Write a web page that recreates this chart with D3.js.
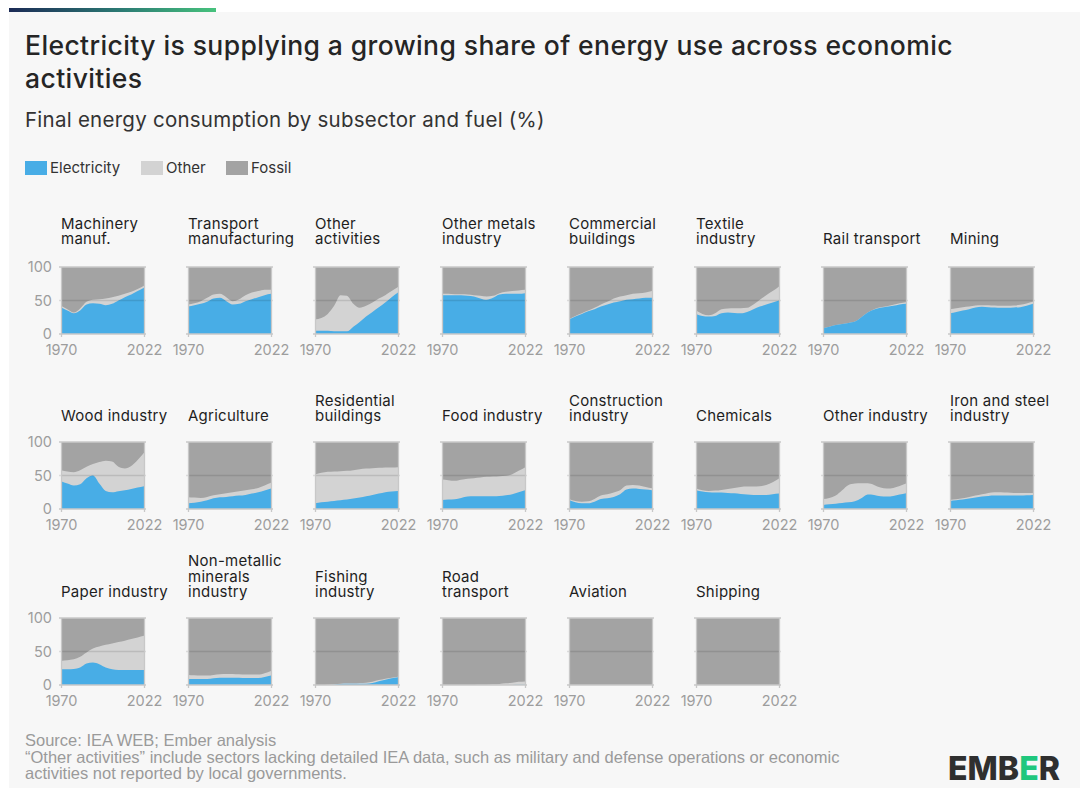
<!DOCTYPE html>
<html>
<head>
<meta charset="utf-8">
<script src="https://cdn.jsdelivr.net/npm/d3@7"></script>
<style>
  body { margin: 0; background: #fff; }
  svg { display: block; font-family: Inter, "Noto Sans", sans-serif; }
</style>
</head>
<body>
<svg id="chart" width="1080" height="788"></svg>
<script>

// years sampled every 4 years, 1970 -> 2022
var years = [1970, 1974, 1978, 1982, 1986, 1990, 1994, 1998, 2002, 2006, 2010, 2014, 2018, 2022];

var titles = [
    ["Machinery", "manuf."], ["Transport", "manufacturing"], ["Other", "activities"], ["Other metals", "industry"],
    ["Commercial", "buildings"], ["Textile", "industry"], ["Rail transport"], ["Mining"],
    ["Wood industry"], ["Agriculture"], ["Residential", "buildings"], ["Food industry"],
    ["Construction", "industry"], ["Chemicals"], ["Other industry"], ["Iron and steel", "industry"],
    ["Paper industry"], ["Non-metallic", "minerals", "industry"], ["Fishing", "industry"], ["Road", "transport"],
    ["Aviation"], ["Shipping"]
];

// electricity share (%) per subsector
var electricity = [
    [40, 35, 31, 35, 44, 46, 45, 43, 45, 50, 55, 59, 64, 69],
    [41, 43, 45, 48, 53, 54, 49, 44, 45, 49, 52, 55, 58, 60],
    [5, 5, 5, 4, 4, 4, 11, 18, 26, 33, 40, 47, 55, 62],
    [58, 58, 58, 58, 57, 56, 53, 51, 54, 59, 60, 60, 60, 61],
    [21.5, 26, 30, 34, 37, 41, 44, 47, 49, 51, 52, 53, 54, 54],
    [30, 27, 26, 27, 31, 32, 31.5, 31, 33, 37, 41, 44, 47, 50],
    [8.5, 11, 13.5, 15, 16.5, 18.5, 25, 32, 36.5, 39, 40.5, 42, 44, 45],
    [31, 33, 35, 37, 39.5, 40.5, 40, 39.5, 39, 39, 39.5, 40, 42, 45],
    [41.5, 38, 35, 37, 46, 50, 38, 27, 25, 26.5, 28, 30, 32, 34],
    [8.5, 9.5, 11, 13, 16, 17.5, 18, 19, 20, 21, 23, 25, 27.5, 30.5],
    [8.5, 10, 11, 12, 13, 14, 15.5, 17, 19, 21, 23, 25, 26, 27],
    [13.5, 14, 14.5, 16.5, 18.5, 19, 19, 19, 19, 19.5, 20.5, 22, 25, 28],
    [13.5, 10, 8.5, 8.5, 11, 15, 16, 18, 22, 29, 30.5, 30, 29, 28],
    [28, 26, 25, 24.5, 24.5, 24, 23.5, 22.5, 21.5, 21, 21, 21, 22, 23],
    [6, 7, 8, 9, 10, 11.5, 16, 21.5, 21, 19, 18.5, 19.5, 21.5, 23.5],
    [12, 13, 14, 15.5, 17, 18.5, 19.5, 20, 20, 20, 20, 20, 20.5, 21],
    [23.5, 23.5, 24, 26, 32, 33.5, 31, 26, 23.5, 22.5, 22.5, 22.5, 22.5, 22.5],
    [9, 9, 9, 9, 10, 11, 11, 11, 11, 10.5, 10.5, 10.5, 12, 14],
    [0, 0, 0, 0.5, 1.5, 2, 2, 2, 2, 3, 5.5, 8, 10, 11.5],
    [0, 0, 0, 0, 0, 0, 0, 0, 0, 0, 0, 0, 0.2, 0.3],
    [0, 0, 0, 0, 0, 0, 0, 0, 0, 0, 0, 0, 0, 0],
    [0, 0, 0, 0, 0, 0, 0, 0, 0, 0, 0, 0, 0, 0]
];

// other (non-fossil, non-electric) share (%) per subsector
var other = [
    [2, 2, 1, 3, 4, 5, 7, 10, 10, 7, 5, 4, 3, 3],
    [3, 3, 4, 6, 6, 6, 6, 5, 7, 9, 10, 9, 8, 6],
    [17, 19, 25, 38, 54, 53, 34, 21, 16, 14, 13, 11, 9, 8],
    [2, 2, 1.5, 1.5, 2, 2, 4, 5, 3, 2, 3, 4, 5, 5],
    [0.5, 1, 1, 1, 2, 3, 4, 6, 7, 7, 8, 8, 8, 10],
    [5, 3, 2, 4, 6, 6, 7, 7.5, 6, 7, 10, 14, 17, 21],
    [0, 0, 0, 0, 0, 0, 0, 0, 0.5, 1, 1, 1.5, 2, 2.5],
    [6, 5.5, 5, 4, 3, 2.5, 3, 3, 3, 3, 3, 3.5, 3.5, 3],
    [16.5, 18, 20, 21, 17, 17, 32, 45, 46, 36.5, 32.5, 34, 41, 50],
    [9, 7.5, 5.5, 5, 4.5, 4.5, 5.5, 6, 6.5, 7, 6.5, 6.5, 7.5, 8.5],
    [43, 44, 44.5, 44, 43.5, 43, 42.5, 42.5, 41.5, 40, 38.5, 37, 36, 35.5],
    [30.5, 29, 27.5, 27, 26.5, 27, 28, 29, 29.5, 29.5, 29, 30, 32, 34],
    [1.5, 2, 2.5, 3, 4, 5, 6, 6.5, 6, 6, 5.5, 5, 4, 3],
    [2.5, 2, 2, 3, 4, 6, 8, 10.5, 12, 12.5, 13, 15, 18, 22.5],
    [9, 9.5, 12, 19, 26, 26.5, 22.5, 17, 15, 13, 12, 12, 13, 14.5],
    [1.5, 1.5, 2, 2.5, 3, 3.5, 4.5, 5, 5, 4.5, 4, 4, 3.5, 3],
    [12.5, 13.5, 14.5, 16, 16.5, 21, 26.5, 34, 38.5, 41.5, 43.5, 46, 48.5, 51],
    [6, 5.5, 5, 5, 5, 5, 5.5, 5.5, 5, 5, 5, 5, 5.5, 7],
    [0, 0, 0.5, 0.5, 0.5, 0.5, 0.5, 1, 1.5, 2, 2, 1.5, 1, 1],
    [0, 0, 0, 0, 0, 0, 0.2, 0.5, 1, 1.5, 2.5, 3.5, 4.5, 5],
    [0, 0, 0, 0, 0, 0, 0, 0, 0, 0, 0, 0, 0, 0],
    [0, 0, 0, 0, 0, 0, 0, 0, 0, 0, 0, 0, 0, 0]
];

var fuels = ["Electricity", "Other", "Fossil"];
var fuelColors = ["#48ade6", "#d3d3d3", "#a3a3a3"];
var yTicks = [0, 50, 100];
var xTicks = [1970, 2022];

var svg = d3.select("#chart");

// page background + top bar
svg.append("rect").attr("width", 1080).attr("height", 788).attr("fill", "#fff");
svg.append("rect").attr("x", 9).attr("y", 12).attr("width", 1071).attr("height", 776).attr("fill", "#f7f7f7");

var grad = svg.append("defs").append("linearGradient").attr("id", "topbar");
grad.append("stop").attr("offset", "0%").attr("stop-color", "#1b2a55");
grad.append("stop").attr("offset", "55%").attr("stop-color", "#2c7c74");
grad.append("stop").attr("offset", "100%").attr("stop-color", "#47c27d");
svg.append("rect").attr("x", 9).attr("y", 8).attr("width", 207).attr("height", 4).attr("fill", "url(#topbar)");

// title / subtitle
svg.append("text")
    .attr("x", 25).attr("y", 55)
    .attr("font-size", 26.5).attr("font-weight", 500).attr("fill", "#252525")
    .attr("letter-spacing", 0.4)
    .text("Electricity is supplying a growing share of energy use across economic");
svg.append("text")
    .attr("x", 25).attr("y", 88)
    .attr("font-size", 26.5).attr("font-weight", 500).attr("fill", "#252525")
    .attr("letter-spacing", 0.4)
    .text("activities");
svg.append("text")
    .attr("x", 25).attr("y", 127)
    .attr("font-size", 20.5).attr("fill", "#333")
    .attr("letter-spacing", 0.25)
    .text("Final energy consumption by subsector and fuel (%)");

// legend
var legendX = [25, 141, 226];
var legend = svg.append("g").selectAll("g")
    .data(fuels)
    .enter()
    .append("g")
    .attr("transform", function(d, i) { return "translate(" + legendX[i] + ",161)"; });
legend.append("rect")
    .attr("width", 22).attr("height", 14)
    .attr("fill", function(d, i) { return fuelColors[i]; });
legend.append("text")
    .attr("x", 25).attr("y", 12)
    .attr("font-size", 15).attr("fill", "#333")
    .text(function(d) { return d; });

// small multiples
var W = 83, H = 67;
var rowTops = [267, 442, 618];
var rowTitleBase = [244, 421, 597];

var x = d3.scaleLinear().domain([1970, 2022]).range([0, W]);
var y = d3.scaleLinear().domain([0, 100]).range([H, 0]);

titles.forEach(function(lines, i) {
    var col = i % 8, row = Math.floor(i / 8);
    var left = 61 + col * 127;
    var g = svg.append("g")
        .attr("transform", "translate(" + left + "," + rowTops[row] + ")");

    var rows = years.map(function(yr, j) {
        return {
            year: yr,
            Electricity: electricity[i][j],
            Other: other[i][j],
            Fossil: 100 - electricity[i][j] - other[i][j]
        };
    });
    var series = d3.stack().keys(fuels)(rows);

    // draw from the top layer down, each filled to the baseline (no seams)
    for (var k = series.length - 1; k >= 0; k--) {
        var area = d3.area()
            .curve(d3.curveMonotoneX)
            .x(function(d) { return x(d.data.year); })
            .y0(y(0))
            .y1(function(d) { return y(d[1]); });
        g.append("path")
            .datum(series[k])
            .attr("fill", fuelColors[k])
            .attr("d", area);
    }

    // horizontal tick lines
    g.selectAll(".hline")
        .data(yTicks)
        .enter()
        .append("line")
        .attr("class", "hline")
        .attr("x1", -2).attr("x2", W + 2)
        .attr("y1", function(d) { return y(d); })
        .attr("y2", function(d) { return y(d); })
        .attr("stroke", function(d) { return d === 50 ? "rgba(0,0,0,0.11)" : "#c8c8c8"; })
        .attr("stroke-width", 1.3);

    // x axis
    var xAxis = g.append("g")
        .attr("transform", "translate(0," + H + ")")
        .call(d3.axisBottom(x).tickValues(xTicks).tickSize(3).tickPadding(8).tickFormat(d3.format("d")));
    xAxis.select(".domain").remove();
    xAxis.selectAll("line").attr("stroke", "#c8c8c8").attr("stroke-width", 1.3).attr("y1", -H);
    xAxis.selectAll("text")
        .attr("fill", "#9d9d9d")
        .attr("font-size", 14.5)
        .style("font-family", "Inter, 'Noto Sans', sans-serif");

    // y labels on the first column only
    if (col === 0) {
        var yAxis = g.append("g")
            .call(d3.axisLeft(y).tickValues(yTicks).tickSize(0).tickPadding(9));
        yAxis.select(".domain").remove();
        yAxis.selectAll("text")
            .attr("fill", "#9d9d9d")
            .attr("font-size", 14.5)
            .style("font-family", "Inter, 'Noto Sans', sans-serif");
    }

    // panel title
    var t = g.append("text")
        .attr("font-size", 15)
        .attr("letter-spacing", 0.25)
        .attr("fill", "#1e1e1e");
    lines.forEach(function(line, li) {
        t.append("tspan")
            .attr("x", 0)
            .attr("y", rowTitleBase[row] - rowTops[row] - (lines.length - 1 - li) * 15.5)
            .text(line);
    });
});

// footer
var notes = [
    "Source: IEA WEB; Ember analysis",
    "\u201cOther activities\u201d include sectors lacking detailed IEA data, such as military and defense operations or economic",
    "activities not reported by local governments."
];
svg.append("g").selectAll("text")
    .data(notes)
    .enter()
    .append("text")
    .attr("x", 25)
    .attr("y", function(d, i) { return 746 + i * 16.5; })
    .attr("font-size", 16.5)
    .attr("fill", "#9a9a9a")
    .style("font-family", "'Liberation Sans', Arial, sans-serif")
    .text(function(d) { return d; });

var logo = svg.append("text")
    .attr("x", 948).attr("y", 780)
    .attr("font-size", 33)
    .attr("font-weight", 800)
    .attr("fill", "#2f2f2f")
    .attr("textLength", 112)
    .attr("lengthAdjust", "spacingAndGlyphs");
logo.append("tspan").text("EMB");
logo.append("tspan").attr("fill", "#1fc77d").text("E");
logo.append("tspan").text("R");

</script>
</body>
</html>
